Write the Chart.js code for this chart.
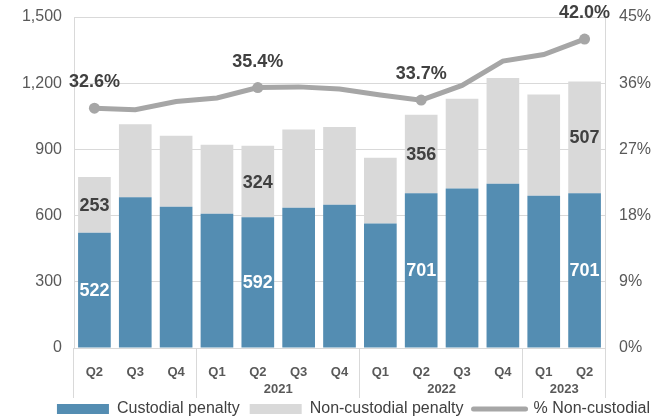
<!DOCTYPE html>
<html>
<head>
<meta charset="utf-8">
<script src="https://cdn.jsdelivr.net/npm/chart.js@4"></script>
<style>
  html, body { margin: 0; padding: 0; background: #fff; }
  #wrap { width: 665px; height: 419px; }
</style>
</head>
<body>
<div id="wrap"><canvas id="chart"></canvas></div>
<script>
// quarters on the x axis, grouped by year underneath
const quarters = ['Q2', 'Q3', 'Q4', 'Q1', 'Q2', 'Q3', 'Q4', 'Q1', 'Q2', 'Q3', 'Q4', 'Q1', 'Q2'];
const yearLabels = ['', '2021', '2022', '2023'];
const yearStarts = [0, 3, 7, 11];
const yearEnds = [2, 6, 10, 12];

// series
const custodial = [522, 683, 640, 608, 592, 636, 649, 564, 701, 723, 744, 690, 701];
const nonCustodial = [253, 331, 322, 313, 324, 354, 353, 298, 356, 407, 479, 459, 507];
const pctNonCustodial = [32.6, 32.4, 33.5, 34.0, 35.4, 35.5, 35.2, 34.4, 33.7, 35.7, 39.0, 39.9, 42.0];
const labeledIdx = [0, 4, 8, 12];

const BLUE = '#548db2';
const GREY = '#d9d9d9';
const LINE = '#a6a6a6';
const TEXT = '#595959';
const DARK = '#404040';

Chart.defaults.font.family = '"Liberation Sans", Arial, sans-serif';

// value labels + year row under the quarter ticks
const annotate = {
  id: 'annotate',
  afterLayout(chart) {
    // legend sits a bit right of centre in the original
    chart.legend.left += 21;
    chart.legend.right += 21;
  },
  afterDatasetsDraw(chart) {
    const ctx = chart.ctx;
    const blue = chart.getDatasetMeta(0).data;
    const grey = chart.getDatasetMeta(1).data;
    const line = chart.getDatasetMeta(2).data;
    ctx.save();
    ctx.textAlign = 'center';
    ctx.textBaseline = 'middle';
    ctx.font = 'bold 18px "Liberation Sans", Arial, sans-serif';
    labeledIdx.forEach(i => {
      const b = blue[i];
      ctx.fillStyle = '#fff';
      ctx.fillText(custodial[i], b.x, (b.y + b.base) / 2 + 1);
      const g = grey[i];
      ctx.fillStyle = DARK;
      ctx.fillText(nonCustodial[i], g.x, (g.y + g.base) / 2 + 1);
      const p = line[i];
      ctx.fillText(pctNonCustodial[i].toFixed(1) + '%', p.x, p.y - 26);
    });
    ctx.restore();
  },
  afterDraw(chart) {
    const ctx = chart.ctx;
    const x = chart.scales.x;
    const half = (x.getPixelForValue(1) - x.getPixelForValue(0)) / 2;
    const top = chart.chartArea.bottom;
    const bottom = top + 50;
    ctx.save();
    ctx.strokeStyle = GREY;
    ctx.lineWidth = 1;
    ctx.fillStyle = TEXT;
    ctx.font = 'bold 13px "Liberation Sans", Arial, sans-serif';
    ctx.textAlign = 'center';
    ctx.textBaseline = 'middle';
    yearLabels.forEach((yr, k) => {
      const left = x.getPixelForValue(yearStarts[k]) - half;
      const right = x.getPixelForValue(yearEnds[k]) + half;
      ctx.beginPath();
      ctx.moveTo(Math.round(left) - 0.5, top);
      ctx.lineTo(Math.round(left) - 0.5, bottom);
      ctx.stroke();
      if (k === yearLabels.length - 1) {
        ctx.beginPath();
        ctx.moveTo(Math.round(right) + 0.5, top);
        ctx.lineTo(Math.round(right) + 0.5, bottom);
        ctx.stroke();
      }
      if (yr) ctx.fillText(yr, (left + right) / 2, top + 41);
    });
    ctx.restore();
  }
};

new Chart(document.getElementById('chart'), {
  type: 'bar',
  data: {
    labels: quarters,
    datasets: [
      {
        label: 'Custodial penalty',
        data: custodial,
        backgroundColor: BLUE,
        yAxisID: 'y',
        barPercentage: 0.8,
        categoryPercentage: 1
      },
      {
        label: 'Non-custodial penalty',
        data: nonCustodial,
        backgroundColor: GREY,
        yAxisID: 'y',
        barPercentage: 0.8,
        categoryPercentage: 1
      },
      {
        type: 'line',
        label: '% Non-custodial',
        data: pctNonCustodial,
        yAxisID: 'y1',
        borderColor: LINE,
        backgroundColor: LINE,
        borderWidth: 5,
        tension: 0,
        pointRadius: c => labeledIdx.includes(c.dataIndex) ? 5.5 : 0,
        pointBackgroundColor: LINE,
        pointBorderWidth: 0,
        order: -1
      }
    ]
  },
  options: {
    responsive: true,
    maintainAspectRatio: false,
    animation: false,
    layout: { padding: { top: 17, right: 0, left: 0, bottom: -8 } },
    plugins: {
      tooltip: { enabled: false },
      legend: {
        position: 'bottom',
        labels: {
          usePointStyle: true,
          pointStyleWidth: 52,
          boxHeight: 10,
          padding: 10,
          color: DARK,
          font: { size: 16 },
          generateLabels: chart => chart.data.datasets.map((ds, i) => ({
            text: ds.label,
            fillStyle: i === 2 ? 'transparent' : ds.backgroundColor,
            strokeStyle: i === 2 ? LINE : ds.backgroundColor,
            lineWidth: i === 2 ? 5 : 0,
            lineCap: 'round',
            pointStyle: i === 2 ? 'line' : 'rect',
            fontColor: DARK,
            hidden: false,
            datasetIndex: i
          }))
        }
      }
    },
    scales: {
      x: {
        stacked: true,
        grid: { display: false },
        border: { display: false },
        ticks: { color: TEXT, font: { size: 13, weight: 'bold' }, padding: 9 },
        afterFit(s) { s.height = 43; }
      },
      y: {
        stacked: true,
        min: 0,
        max: 1500,
        ticks: { stepSize: 300, color: TEXT, font: { size: 16 }, padding: 12 },
        grid: { color: GREY, drawTicks: false },
        border: { display: true, color: GREY },
        afterFit(s) { s.width = 74; s.paddingTop = 0; s.paddingBottom = 0; }
      },
      y1: {
        position: 'right',
        min: 0,
        max: 45,
        ticks: { stepSize: 9, color: TEXT, font: { size: 16 }, padding: 14, callback: v => v + '%' },
        grid: { display: false, drawTicks: false },
        border: { display: true, color: GREY },
        afterFit(s) { s.width = 60; s.paddingTop = 0; s.paddingBottom = 0; }
      }
    }
  },
  plugins: [annotate]
});
</script>
</body>
</html>
